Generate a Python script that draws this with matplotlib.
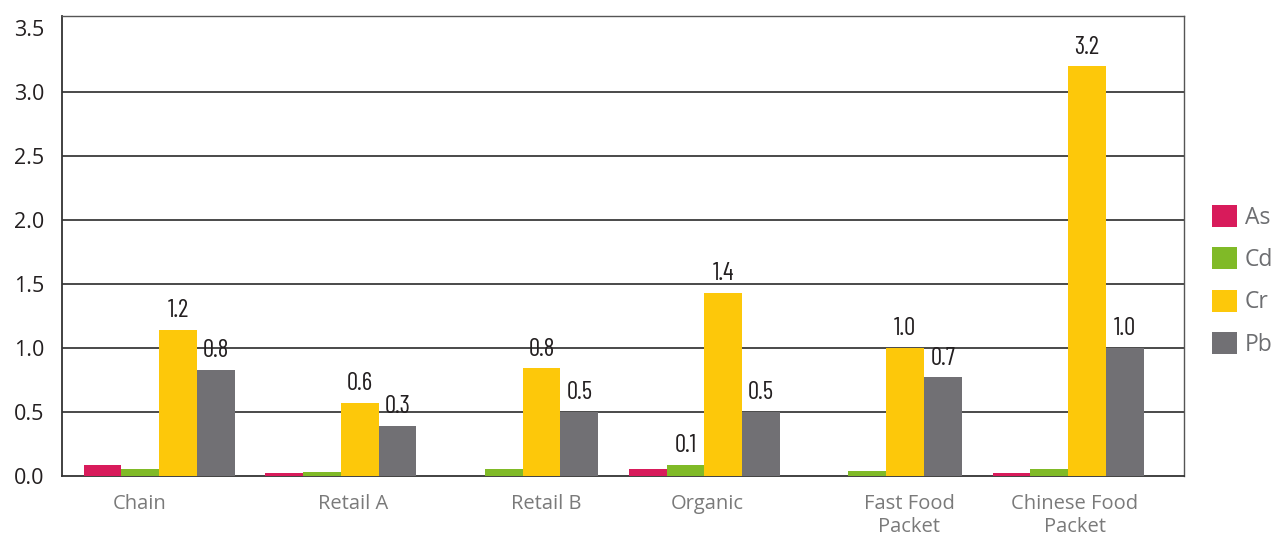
import matplotlib
matplotlib.use("Agg")
import matplotlib.pyplot as plt
import numpy as np

# ---- data ----
categories = ["Chain", "Retail A", "Retail B", "Organic", "Fast Food\nPacket", "Chinese Food\nPacket"]
series_names = ["As", "Cd", "Cr", "Pb"]
as_vals = [0.086, 0.024, 0.0, 0.055, 0.0, 0.024]
cd_vals = [0.055, 0.031, 0.055, 0.086, 0.040, 0.055]
cr_vals = [1.144, 0.572, 0.84, 1.43, 1.0, 3.2]
pb_vals = [0.83, 0.39, 0.50, 0.50, 0.77, 1.0]
# value labels printed on the chart (None = no label)
as_labels = [None, None, None, None, None, None]
cd_labels = [None, None, None, "0.1", None, None]
cr_labels = ["1.2", "0.6", "0.8", "1.4", "1.0", "3.2"]
pb_labels = ["0.8", "0.3", "0.5", "0.5", "0.7", "1.0"]
y_ticks = [0.0, 0.5, 1.0, 1.5, 2.0, 2.5, 3.0, 3.5]

# ---- style ----
colors = ["#D81B5B", "#80BA27", "#FDC80A", "#717074"]
label_shift_px = [-19, 12, 24, 3, 23, 7]
group_px = 181.8
font_main = ["Open Sans", "DejaVu Sans"]
font_cond = ["Barlow Condensed", "DejaVu Sans"]

fig = plt.figure(figsize=(12.76, 5.36), dpi=100)
ax = fig.add_axes([62 / 1276, 1 - 476 / 536, (1184 - 62) / 1276, (476 - 16) / 536])

x = np.arange(len(categories))
w = 0.2077
all_vals = [as_vals, cd_vals, cr_vals, pb_vals]
all_labels = [as_labels, cd_labels, cr_labels, pb_labels]
for k, (name, vals, labs, col) in enumerate(zip(series_names, all_vals, all_labels, colors)):
    pos = x + (k - 1.5) * w
    bars = ax.bar(pos, vals, width=w, color=col, label=name, zorder=3, linewidth=0)
    for b, lab in zip(bars, labs):
        if lab is None:
            continue
        ax.annotate(lab, (b.get_x() + b.get_width() / 2, b.get_height()),
                    xytext=(0, 5.5), textcoords="offset points",
                    ha="center", va="bottom", fontsize=18, fontweight="normal",
                    family=font_cond, color="#231F20", zorder=4)

ax.set_xlim(-0.534, 5.638)
ax.set_ylim(0, 3.594)
ax.set_yticks(y_ticks)
ax.set_yticklabels([f"{v:.1f}" for v in y_ticks], family=font_main, fontsize=15.5, color="#231F20")
for gy in y_ticks[1:-1]:
    ax.axhline(gy, color="#2b2b2b", lw=1.2, zorder=1)

ax.set_xticks(x + np.array(label_shift_px) / group_px)
ax.set_xticklabels(categories, family=font_main, fontsize=14.5, color="#7a7a7a", linespacing=1.22)

ax.tick_params(axis="both", length=0)
ax.tick_params(axis="y", pad=13)
ax.tick_params(axis="x", pad=13)
for side in ["left", "bottom"]:
    ax.spines[side].set_color("#333333")
    ax.spines[side].set_linewidth(1.3)
for side in ["top", "right"]:
    ax.spines[side].set_color("#555555")
    ax.spines[side].set_linewidth(1.0)

leg = fig.legend(loc="upper left", bbox_to_anchor=(1212 / 1276, 1 - 205 / 536),
                 frameon=False, borderpad=0, borderaxespad=0,
                 handlelength=1.09, handleheight=1.09, handletextpad=0.35,
                 labelspacing=0.77, prop={"family": font_main, "size": 16.5})
for t in leg.get_texts():
    t.set_color("#6D6E71")

fig.savefig("out.png", dpi=100)
